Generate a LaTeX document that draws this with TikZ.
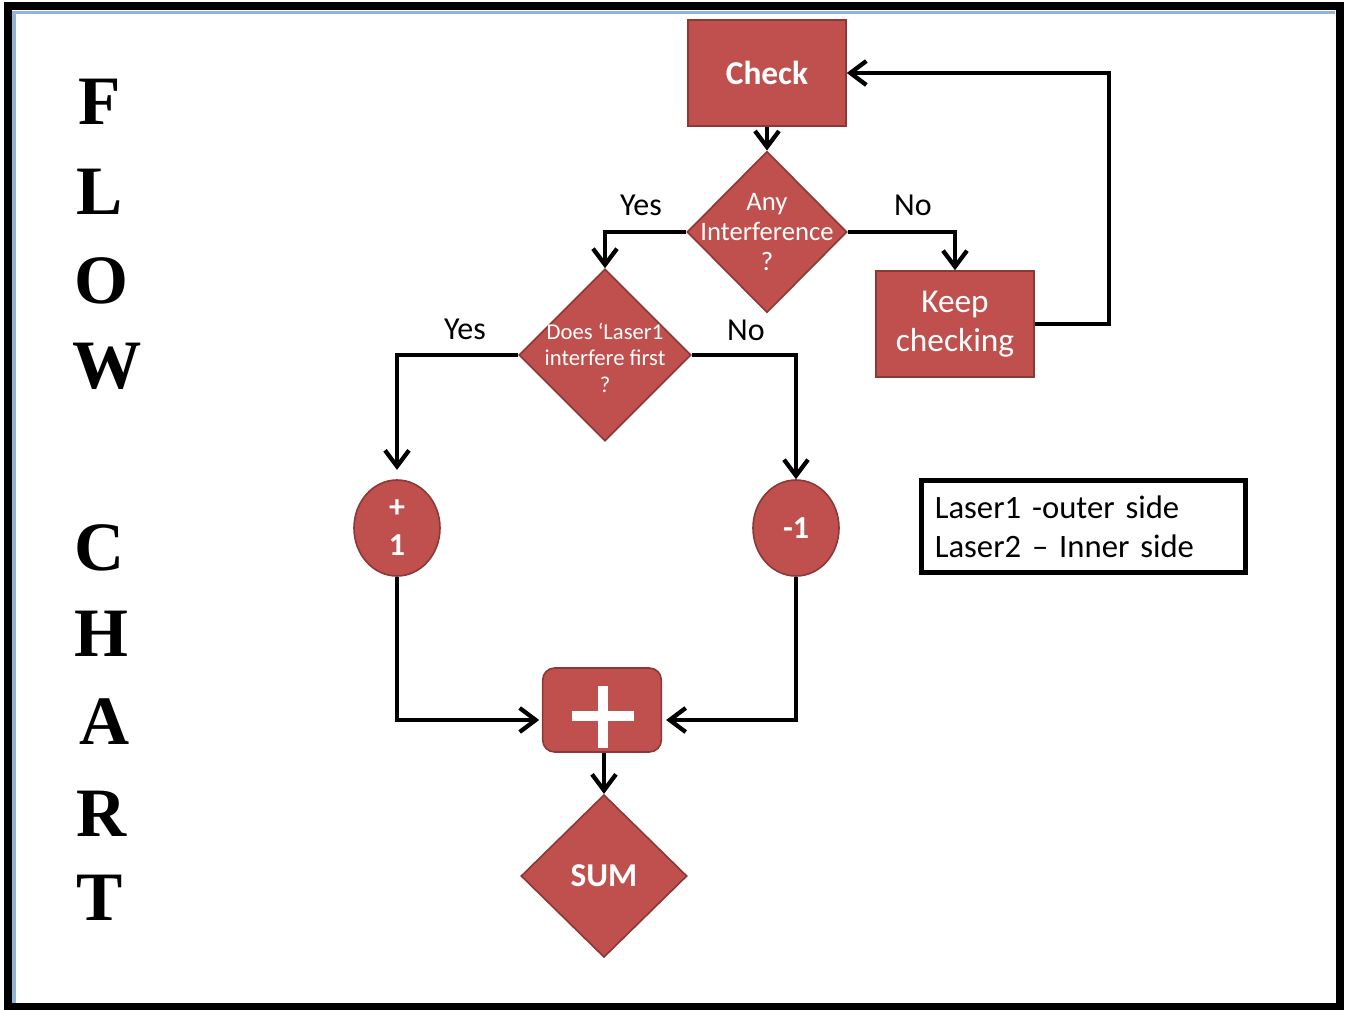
\documentclass[tikz,border=0pt]{standalone}
\usepackage{fontspec}
\setmainfont{Carlito}
\newfontfamily\titlefont{Liberation Serif}
\usetikzlibrary{shapes.geometric, arrows.meta, positioning}
\definecolor{boxred}{RGB}{192,80,77}
\definecolor{boxedge}{RGB}{140,56,54}
\definecolor{rimblue}{RGB}{149,179,215}
\newcommand\keyfont{\fontsize{24.5}{29}\selectfont\spaceskip=0.17em\relax}

\begin{document}
\begin{tikzpicture}[
    x=0.75pt, y=-0.75pt,
    proc/.style={rectangle, draw=boxedge, line width=1.2pt, fill=boxred, text=white,
                 minimum width=118.5pt, minimum height=79.5pt, align=center,
                 font=\fontsize{25}{29}\selectfont},
    dec/.style={diamond, draw=boxedge, line width=1.2pt, fill=boxred, inner sep=0pt},
    dectext/.style={text=white, align=center},
    count/.style={ellipse, draw=boxedge, line width=1.2pt, fill=boxred, text=white, inner sep=0pt,
                  minimum width=64.5pt, minimum height=72pt, align=center,
                  font=\fontsize{24}{28.5}\selectfont\bfseries},
    lbl/.style={font=\fontsize{24}{28}\selectfont},
    title/.style={font=\titlefont\bfseries\fontsize{52}{52}\selectfont},
    arr/.style={-{Straight Barb[length=12pt, width=18pt]}, line width=3.2pt}
]
\useasboundingbox (0,0) rectangle (1346,1010);

% frame
\draw[line width=5.5pt] (8,6) rectangle (1340,1007);
\draw[rimblue, line width=2.5pt] (14,1003) |- (1335,12.5);

% side title
\foreach \ch/\xx/\yy [count=\i] in {F/100/102, L/100/192, O/101/281, W/107/366,
                                    C/100/548, H/101/634, A/105/722, R/102/814, T/100/898}
  \node[title] (title\i) at (\xx,\yy) {\ch};

% flow
\node[proc, font=\fontsize{25}{29}\selectfont\bfseries] (check) at (767,73) {Check};
\node[dec, minimum width=120pt, minimum height=121pt,
      label={[dectext, font=\fontsize{20}{22.5}\selectfont]center:Any\\Interference\\?}] (anyq) at (767,232) {};
\node[proc] (keep) at (955,324) {Keep\\checking};
\node[dec, minimum width=129pt, minimum height=129pt,
      label={[dectext, font=\fontsize{17}{20}\selectfont, yshift=-2pt]center:Does ‘Laser1\\interfere first\\?}] (laserq) at (605,355) {};
\node[count] (plusone)  at (397,528) {+\\1};
\node[count] (minusone) at (796,528) {-1};
\node[proc, rounded corners=9pt, minimum width=89pt, minimum height=63pt] (plus) at (602,710) {};
\node[dec, minimum width=124.5pt, minimum height=122pt,
      label={[dectext, font=\fontsize{25}{29}\selectfont\bfseries]center:SUM}] (sum) at (604,876) {};

\draw[white, line width=7.5pt] (plus.center) ++(-30,6) -- ++(62,0);
\draw[white, line width=7.5pt] (plus.center) ++(1,-24) -- ++(0,62);

% key
\node[draw, line width=3.75pt, minimum width=243pt, minimum height=69pt, inner xsep=10pt,
      text width=223pt, align=left, font=\keyfont] (key) at (1083.5,526.5)
      {Laser1 -outer side\\Laser2 – Inner side};

% branch labels
\node[lbl] (yes1) at (641,205) {Yes};
\node[lbl] (no1)  at (913,205) {No};
\node[lbl] (yes2) at (465,329) {Yes};
\node[lbl] (no2)  at (746,330) {No};

% connectors
\draw[arr] (check) -- (anyq);
\draw[arr] (anyq.west) -| (laserq.north);
\draw[arr] (anyq.east) -| (keep.north);
\draw[arr] (keep.east) -- ++(74,0) |- (check.east);
\draw[arr, shorten >=7pt] (laserq.west) -| (plusone.north);
\draw[arr] (laserq.east) -| (minusone.north);
\draw[arr, shorten >=2pt] (plusone.south) |- ([yshift=-7.5pt]plus.west);
\draw[arr, shorten >=3pt] (minusone.south) |- ([yshift=-7.5pt]plus.east);
\draw[arr] (plus.south -| sum.north) -- (sum.north);
\end{tikzpicture}
\end{document}
